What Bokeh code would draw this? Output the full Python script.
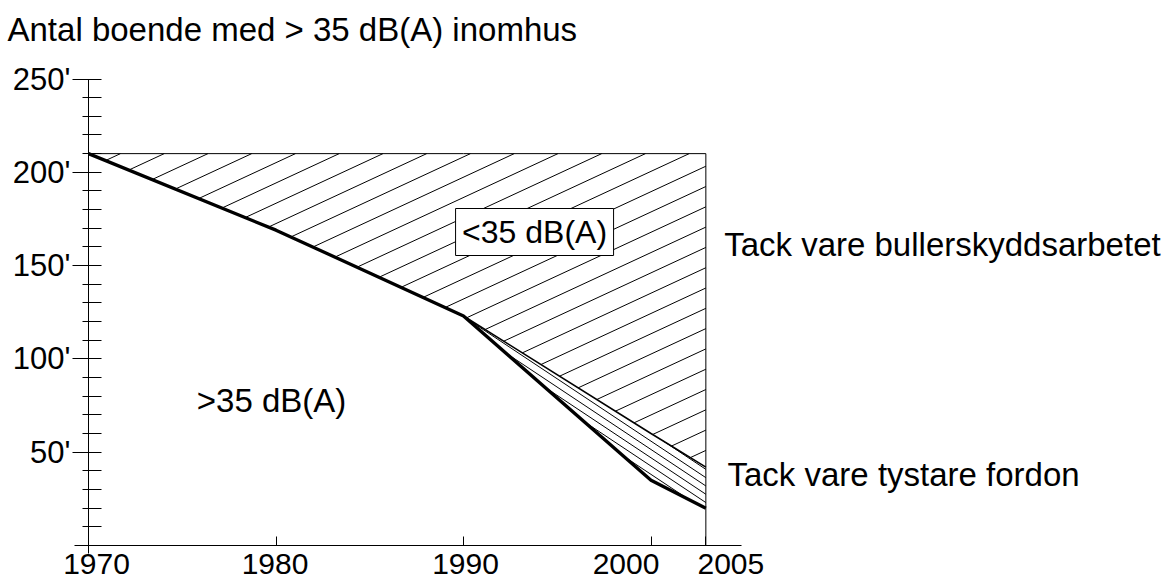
import numpy as np
from bokeh.plotting import figure
from bokeh.models import Range1d, FixedTicker, LinearAxis
from bokeh.core.properties import value
from bokeh.embed import file_html
from bokeh.resources import INLINE

# ---------------- data ----------------
years = [1970, 1980, 1990, 2000, 2005]
without_measures = [210, 210, 210, 210, 210]      # level without any measures
after_noise_barriers = [210, 169, 123, 60, 42]   # upper edge of the band
actual_level = [210, 169, 123, 35, 20]            # thick line (>35 dB(A))

x_tick_years = [1970, 1980, 1990, 2000, 2005]
x_tick_labels = ["1970", "1980", "1990", "2000", "2005"]
y_major_ticks = [50, 100, 150, 200, 250]
y_tick_labels = ["50'", "100'", "150'", "200'", "250'"]
y_minor_ticks = [10, 20, 30, 40, 60, 70, 80, 90, 110, 120, 130, 140,
                 160, 170, 180, 190, 210, 220, 230, 240]

title_text = "Antal boende med > 35 dB(A) inomhus"
label_below = "<35 dB(A)"
label_above = ">35 dB(A)"
note_barriers = "Tack vare bullerskyddsarbetet"
note_vehicles = "Tack vare tystare fordon"

# ---------------- layout / scale ----------------
W, H = 1164, 586
PXY = 18.75     # px per year
PXU = 1.866     # px per unit (thousands)
X0 = 88         # canvas px of 1970
Y0 = 545        # canvas px of value 0
FONT = "Liberation Sans"
label_shift_px = [8, -1, 2, -25, 25]   # horizontal nudges of the year labels


def xpos(yr):
    # the drawing compresses the last five years
    return yr if yr <= 2000 else 2000 + (yr - 2000) * 0.585


xs = [xpos(y) for y in years]
x_start = 1970 - X0 / PXY
x_end = x_start + W / PXY
y_start = -(H - Y0) / PXU
y_end = Y0 / PXU

p = figure(width=W, height=H, x_range=Range1d(x_start, x_end),
           y_range=Range1d(y_start, y_end), output_backend="svg",
           toolbar_location=None, min_border=0,
           x_axis_type=None, y_axis_type=None)
p.outline_line_color = None
p.background_fill_color = "white"
p.border_fill_color = "white"


def to_px(xd, yd):
    return X0 + (xd - 1970) * PXY, Y0 - yd * PXU


def to_data(px, py):
    return 1970 + (px - X0) / PXY, (Y0 - py) / PXU


def hatch(poly, m, c0, dc):
    pts = [to_px(x, y) for x, y in poly]
    n = len(pts)
    cs = [py - m * px for px, py in pts]
    kmin = int(np.floor((min(cs) - c0) / dc))
    kmax = int(np.ceil((max(cs) - c0) / dc))
    x0s, y0s, x1s, y1s = [], [], [], []
    for k in range(kmin, kmax + 1):
        c = c0 + k * dc
        hits = []
        for i in range(n):
            (ax, ay), (bx, by) = pts[i], pts[(i + 1) % n]
            den = (by - ay) - m * (bx - ax)
            if abs(den) < 1e-12:
                continue
            t = (c - (ay - m * ax)) / den
            if 0 <= t < 1:
                hits.append(ax + t * (bx - ax))
        hits.sort()
        for j in range(0, len(hits) - 1, 2):
            xa, xb = hits[j], hits[j + 1]
            da = to_data(xa, m * xa + c)
            db = to_data(xb, m * xb + c)
            x0s.append(da[0]); y0s.append(da[1])
            x1s.append(db[0]); y1s.append(db[1])
    return x0s, y0s, x1s, y1s


# region gained by noise barriers (hatched)
poly_a = [(xs[0], without_measures[0]), (xs[-1], without_measures[-1])] + \
         [(xs[i], after_noise_barriers[i]) for i in range(len(xs) - 1, 0, -1)]
ha = hatch(poly_a, -0.464, 208.8, 20.3)
p.segment(x0=ha[0], y0=ha[1], x1=ha[2], y1=ha[3], line_color="black", line_width=1)

# band gained by quieter vehicles
poly_b = [(xs[i], after_noise_barriers[i]) for i in range(2, len(xs))] + \
         [(xs[i], actual_level[i]) for i in range(len(xs) - 1, 2, -1)]
hb = hatch(poly_b, 0.665, 8.1, 8.3)
p.segment(x0=hb[0], y0=hb[1], x1=hb[2], y1=hb[3], line_color="black", line_width=1)

# lines
p.line(xs, without_measures, line_color="black", line_width=1)
p.segment(x0=[xs[-1]], y0=[0], x1=[xs[-1]], y1=[without_measures[-1]],
          line_color="black", line_width=1)
p.line(xs, after_noise_barriers, line_color="black", line_width=1.6)
p.line(xs, actual_level, line_color="black", line_width=3.3, line_join="round")

# boxed label
p.rect(x=[1993.79], y=[168.0], width=158, height=47, width_units="screen",
       height_units="screen", fill_color="white", line_color="black", line_width=1)
p.text(x=[1993.79], y=[168.0], text=[label_below], text_align="center",
       text_baseline="middle", text_font=value(FONT), text_font_size="32px",
       text_color="black")
p.text(x=[1979.76], y=[77.7], text=[label_above], text_align="center",
       text_baseline="middle", text_font=value(FONT), text_font_size="33px",
       text_color="black")
p.text(x=[2003.9, 2004.08], y=[161.3, 38.0], text=[note_barriers, note_vehicles],
       text_align="left", text_baseline="middle", text_font=value(FONT),
       text_font_size="33px", text_color="black")
p.text(x=[1965.68], y=[276.7], text=[title_text], text_align="left",
       text_baseline="middle", text_font=value(FONT), text_font_size="33px",
       text_color="black")

# axes: x tick marks
xt = [xpos(y) for y in x_tick_years]
xaxis = LinearAxis(fixed_location=0, ticker=FixedTicker(ticks=xt, minor_ticks=[]),
                   major_label_overrides={t: "" for t in xt},
                   bounds=(1969.253, 2004.83))
xaxis.major_tick_in = 9
xaxis.major_tick_out = 0
xaxis.minor_tick_in = 0
xaxis.minor_tick_out = 0
p.add_layout(xaxis, "below")

# x year labels (nudged apart like the reference)
xl = [t + s / PXY for t, s in zip(xt, label_shift_px)]
xlab = LinearAxis(fixed_location=0, ticker=FixedTicker(ticks=xl, minor_ticks=[]),
                  major_label_overrides={t: l for t, l in zip(xl, x_tick_labels)})
xlab.axis_line_color = None
xlab.major_tick_line_color = None
xlab.minor_tick_line_color = None
xlab.major_tick_in = 0
xlab.major_tick_out = 0
xlab.minor_tick_in = 0
xlab.minor_tick_out = 0
xlab.major_label_standoff = 8
p.add_layout(xlab, "below")

yaxis = LinearAxis(fixed_location=1970,
                   ticker=FixedTicker(ticks=y_major_ticks, minor_ticks=y_minor_ticks),
                   major_label_overrides={t: l for t, l in zip(y_major_ticks, y_tick_labels)},
                   bounds=(-4.29, 250))
yaxis.major_tick_in = 13
yaxis.major_tick_out = 16
yaxis.minor_tick_in = 13
yaxis.minor_tick_out = 6
yaxis.major_label_standoff = 2
p.add_layout(yaxis, "left")

for ax in (xaxis, yaxis):
    ax.axis_line_color = "black"
    ax.axis_line_width = 1
    ax.major_tick_line_color = "black"
    ax.minor_tick_line_color = "black"
for ax in (xaxis, yaxis):
    ax.major_label_text_font = FONT
    ax.major_label_text_font_size = "31px"
    ax.major_label_text_color = "black"
xlab.major_label_text_font = FONT
xlab.major_label_text_font_size = "30px"
xlab.major_label_text_color = "black"

open("out.html", "w").write(file_html(p, INLINE))
